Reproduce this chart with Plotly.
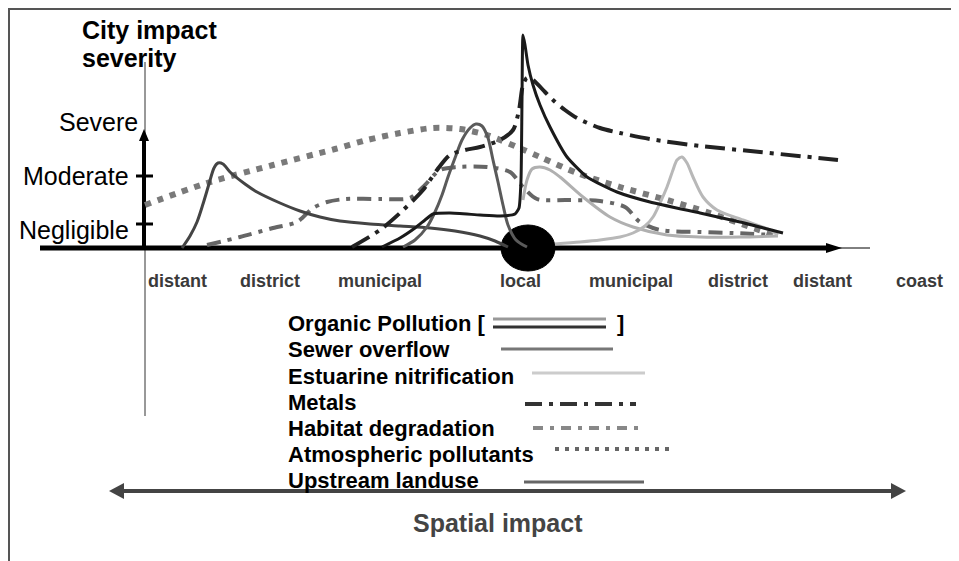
import plotly.graph_objects as go

# Coordinates: x runs along the spatial axis,
# y is measured downward from the top of the drawing (baseline of the curves = 248)
BASE = 248

spatial_labels = ['distant', 'district', 'municipal', 'local', 'municipal', 'district', 'distant', 'coast']
spatial_pos = [177, 270, 380, 520, 631, 738, 822, 919]

severity_labels = ['Severe', 'Moderate', 'Negligible']
severity_pos = [122, 176, 230]
severity_ticks = [176, 224]

local_x = 528

upstream_x = [182, 190, 197, 203, 209, 214, 218, 223, 230, 245, 257, 280, 300, 320, 340, 370, 400, 430, 455, 480, 495, 508]
upstream_y = [248, 236, 222, 204, 184, 168, 163, 164, 172, 184, 192, 203, 211, 217, 221, 224, 226, 228, 231, 236, 241, 247]

sewer_x = [403, 415, 427, 435, 442, 448, 455, 462, 470, 476, 482, 488, 493, 498, 503, 508, 516, 527]
sewer_y = [247, 240, 227, 212, 195, 177, 158, 140, 128, 124, 126, 138, 160, 182, 205, 225, 240, 247]

organic_x = [382, 400, 415, 425, 433, 450, 480, 500, 515, 519, 521, 522, 523, 525, 528, 533, 540, 550, 567, 587, 617, 650, 700, 740, 783]
organic_y = [247, 238, 228, 220, 214, 213, 215, 216, 214, 208, 180, 100, 35, 45, 65, 85, 105, 127, 157, 177, 192, 202, 213, 222, 233]

organic2_x = [523, 527, 532, 540, 550, 560, 583, 610, 633, 667, 700, 740, 778]
organic2_y = [200, 180, 169, 167, 170, 177, 197, 217, 227, 235, 237, 237, 236]

estuarine_x = [555, 580, 600, 620, 633, 645, 653, 660, 667, 673, 677, 682, 687, 693, 703, 717, 743, 770, 778]
estuarine_y = [244, 242, 240, 237, 233, 226, 217, 203, 187, 170, 160, 157, 163, 177, 197, 210, 220, 230, 235]

metals_x = [352, 380, 400, 423, 437, 450, 465, 480, 500, 513, 519, 523, 527, 533, 545, 553, 565, 577, 600, 620, 650, 700, 760, 838]
metals_y = [247, 230, 213, 190, 170, 155, 150, 147, 140, 130, 110, 85, 78, 80, 92, 100, 110, 118, 128, 133, 139, 146, 152, 160]

habitat_x = [207, 240, 273, 297, 313, 327, 345, 380, 410, 423, 440, 457, 487, 510, 523, 537, 567, 600, 625, 640, 660, 700, 733, 773]
habitat_y = [245, 237, 228, 222, 208, 202, 199, 199, 198, 187, 170, 167, 167, 172, 187, 199, 200, 201, 207, 222, 230, 232, 233, 235]

atmos_x = [145, 207, 273, 335, 367, 400, 433, 460, 487, 517, 540, 577, 620, 667, 710, 750, 775]
atmos_y = [205, 183, 165, 149, 140, 133, 128, 129, 135, 147, 157, 173, 187, 200, 213, 227, 235]

legend_names = ['Organic Pollution [', 'Sewer overflow', 'Estuarine nitrification', 'Metals',
                'Habitat degradation', 'Atmospheric pollutants', 'Upstream landuse']

FONT = 'Liberation Sans, Arial, sans-serif'
PAGE = 8  # the browser puts the figure 8px in from the window corner

fig = go.Figure()


def curve(x, y, color, width, dash='solid', smooth=0.8):
    fig.add_trace(go.Scatter(
        x=x, y=y, mode='lines', showlegend=False, hoverinfo='skip',
        line=dict(color=color, width=width, dash=dash, shape='spline', smoothing=smooth)
    ))


curve(atmos_x, atmos_y, '#7a7a7a', 6, dash='6px,7px')
curve(habitat_x, habitat_y, '#666666', 4, dash='14px,7px,4px,7px')
curve(upstream_x, upstream_y, '#444444', 3)
curve(sewer_x, sewer_y, '#5a5a5a', 3)
curve(organic2_x, organic2_y, '#b0b0b0', 3)
curve(estuarine_x, estuarine_y, '#b8b8b8', 3)
curve(metals_x, metals_y, '#222222', 4, dash='20px,7px,4px,7px')
curve(organic_x, organic_y, '#1a1a1a', 3, smooth=0.5)

shapes = []
# frame of the sketch
shapes.append(dict(type='line', x0=8, x1=959, y0=9, y1=9, line=dict(color='#555', width=2)))
shapes.append(dict(type='line', x0=9, x1=9, y0=8, y1=561, line=dict(color='#555', width=2)))
# thin vertical guide
shapes.append(dict(type='line', x0=145, x1=145, y0=62, y1=416, line=dict(color='#333', width=1), layer='below'))
# severity axis with arrow and ticks
shapes.append(dict(type='line', x0=144, x1=144, y0=BASE, y1=138, line=dict(color='black', width=4), layer='below'))
shapes.append(dict(type='path', path='M 139,141 L 149,141 L 144,129 Z', fillcolor='black', line=dict(width=0), layer='below'))
for t in severity_ticks:
    shapes.append(dict(type='line', x0=136, x1=153, y0=t, y1=t, line=dict(color='black', width=3), layer='below'))
# spatial axis
shapes.append(dict(type='line', x0=40, x1=830, y0=BASE, y1=BASE, line=dict(color='black', width=5), layer='below'))
shapes.append(dict(type='path', path='M 826,243 L 842,248 L 826,253 Z', fillcolor='black', line=dict(width=0), layer='below'))
shapes.append(dict(type='line', x0=838, x1=870, y0=BASE, y1=BASE, line=dict(color='black', width=1), layer='below'))
# the city itself
shapes.append(dict(type='circle', x0=local_x - 27, x1=local_x + 27, y0=BASE - 23, y1=BASE + 23,
                   fillcolor='black', line=dict(color='black', width=1), layer='below'))
# spatial impact double arrow
shapes.append(dict(type='line', x0=120, x1=895, y0=491, y1=491, line=dict(color='#444', width=4)))
shapes.append(dict(type='path', path='M 109,491 L 124,483 L 124,499 Z', fillcolor='#444', line=dict(width=0)))
shapes.append(dict(type='path', path='M 906,491 L 891,483 L 891,499 Z', fillcolor='#444', line=dict(width=0)))

# legend samples
legend_rows = [323, 349, 376, 402, 428, 454, 480]
shapes.append(dict(type='line', x0=493, x1=606, y0=319, y1=319, line=dict(color='#999', width=3)))
shapes.append(dict(type='line', x0=493, x1=606, y0=327, y1=327, line=dict(color='#333', width=3)))
shapes.append(dict(type='line', x0=501, x1=613, y0=349, y1=349, line=dict(color='#777', width=3)))
shapes.append(dict(type='line', x0=532, x1=645, y0=373, y1=373, line=dict(color='#ccc', width=3)))
shapes.append(dict(type='line', x0=525, x1=636, y0=404, y1=404, line=dict(color='#333', width=4, dash='17px,7px,4px,7px')))
shapes.append(dict(type='line', x0=533, x1=643, y0=428, y1=428, line=dict(color='#888', width=4, dash='10px,7px,4px,7px')))
shapes.append(dict(type='line', x0=555, x1=672, y0=449, y1=449, line=dict(color='#666', width=4, dash='4px,6px')))
shapes.append(dict(type='line', x0=524, x1=644, y0=482, y1=482, line=dict(color='#666', width=3)))

annotations = []
annotations.append(dict(x=80, y=30, text='<b>City impact</b>', xanchor='left', yanchor='middle',
                        showarrow=False, font=dict(family=FONT, size=25, color='black')))
annotations.append(dict(x=80, y=58, text='<b>severity</b>', xanchor='left', yanchor='middle',
                        showarrow=False, font=dict(family=FONT, size=25, color='black')))
for lab, yy in zip(severity_labels, severity_pos):
    annotations.append(dict(x=140 if lab == 'Severe' else 131, y=yy, text=lab, xanchor='right', yanchor='middle',
                            showarrow=False, font=dict(family=FONT, size=25, color='black')))
for lab, xx in zip(spatial_labels, spatial_pos):
    annotations.append(dict(x=xx, y=281, text='<b>' + lab + '</b>', xanchor='center', yanchor='middle',
                            showarrow=False, font=dict(family=FONT, size=18, color='#3a3a3a')))
for lab, yy in zip(legend_names, legend_rows):
    annotations.append(dict(x=286, y=yy, text='<b>' + lab + '</b>', xanchor='left', yanchor='middle',
                            showarrow=False, font=dict(family=FONT, size=22, color='black')))
annotations.append(dict(x=620, y=323, text='<b>]</b>', xanchor='center', yanchor='middle',
                        showarrow=False, font=dict(family=FONT, size=22, color='black')))
annotations.append(dict(x=498, y=523, text='<b>Spatial impact</b>', xanchor='center', yanchor='middle',
                        showarrow=False, font=dict(family=FONT, size=25, color='#444')))

fig.update_layout(
    width=959 - PAGE,
    height=561 - PAGE,
    margin=dict(l=0, r=0, t=0, b=0),
    plot_bgcolor='white',
    paper_bgcolor='white',
    xaxis=dict(range=[PAGE, 959], visible=False, fixedrange=True),
    yaxis=dict(range=[561, PAGE], visible=False, fixedrange=True),
    shapes=shapes,
    annotations=annotations,
)

fig.write_html("out.html")
